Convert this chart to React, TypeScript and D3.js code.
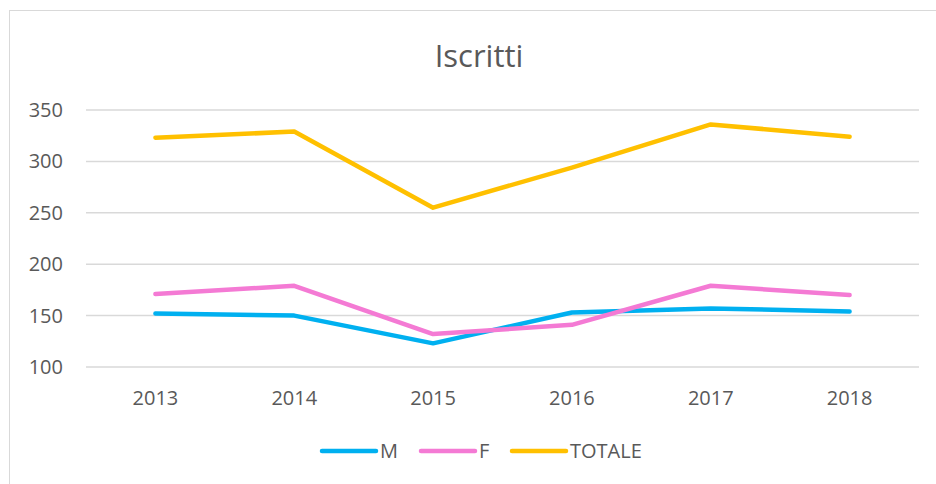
import { useEffect, useRef } from 'react';
import * as d3 from 'd3';

// Dati — iscritti per anno
const YEARS = ['2013', '2014', '2015', '2016', '2017', '2018'];
const M = [152, 150, 123, 153, 157, 154];
const F = [171, 179, 132, 141, 179, 170];
const TOTALE = [323, 329, 255, 294, 336, 324];
const Y_TICKS = [100, 150, 200, 250, 300, 350];

const SERIES = [
  { name: 'M', values: M, color: '#00B0F0' },
  { name: 'F', values: F, color: '#F47AD4' },
  { name: 'TOTALE', values: TOTALE, color: '#FFC000' },
];

const W = 936;
const H = 484;
const FONT = '"Open Sans", sans-serif';
const TXT = '#595959';

export default function App() {
  const svgRef = useRef<SVGSVGElement>(null);

  useEffect(() => {
    const svg = d3.select(svgRef.current);
    svg.selectAll('*').remove();

    const plot = { left: 86, right: 919, top: 110, bottom: 367 };

    const x = d3.scaleBand<string>().domain(YEARS).range([plot.left, plot.right]);
    const y = d3.scaleLinear().domain([100, 350]).range([plot.bottom, plot.top]);

    // cornice
    svg.append('rect')
      .attr('x', 9.5).attr('y', 10.5)
      .attr('width', 960).attr('height', 500)
      .attr('fill', '#fff').attr('stroke', '#D9D9D9').attr('stroke-width', 1);

    // titolo
    svg.append('text')
      .attr('x', 479).attr('y', 67)
      .attr('text-anchor', 'middle')
      .attr('font-family', FONT).attr('font-size', 31)
      .attr('fill', TXT)
      .text('Iscritti');

    // griglia
    svg.append('g').selectAll('line')
      .data(Y_TICKS)
      .join('line')
      .attr('x1', plot.left).attr('x2', plot.right)
      .attr('y1', d => y(d)).attr('y2', d => y(d))
      .attr('stroke', '#D9D9D9').attr('stroke-width', 1.5);

    // etichette asse Y
    svg.append('g').selectAll('text')
      .data(Y_TICKS)
      .join('text')
      .attr('x', 63).attr('y', d => y(d) + 7)
      .attr('text-anchor', 'end')
      .attr('font-family', FONT).attr('font-size', 20)
      .attr('fill', TXT)
      .text(d => d);

    // etichette asse X
    svg.append('g').selectAll('text')
      .data(YEARS)
      .join('text')
      .attr('x', d => (x(d) ?? 0) + x.bandwidth() / 2)
      .attr('y', 405)
      .attr('text-anchor', 'middle')
      .attr('font-family', FONT).attr('font-size', 20)
      .attr('fill', TXT)
      .text(d => d);

    // linee
    const line = d3.line<number>()
      .x((_, i) => (x(YEARS[i]) ?? 0) + x.bandwidth() / 2)
      .y(d => y(d));

    svg.append('g').selectAll('path')
      .data(SERIES)
      .join('path')
      .attr('d', s => line(s.values))
      .attr('fill', 'none')
      .attr('stroke', s => s.color)
      .attr('stroke-width', 4.5)
      .attr('stroke-linecap', 'round')
      .attr('stroke-linejoin', 'round');

    // legenda
    const legendX = [322, 421, 512];
    const lg = svg.append('g').selectAll('g')
      .data(SERIES)
      .join('g')
      .attr('transform', (_, i) => `translate(${legendX[i]},451)`);
    lg.append('line')
      .attr('x1', 0).attr('x2', 54)
      .attr('stroke', s => s.color)
      .attr('stroke-width', 4.5)
      .attr('stroke-linecap', 'round');
    lg.append('text')
      .attr('x', 58).attr('y', 7)
      .attr('font-family', FONT).attr('font-size', 20)
      .attr('fill', TXT)
      .text(s => s.name);
  }, []);

  return (
    <svg
      ref={svgRef}
      width={W}
      height={H}
      style={{ position: 'absolute', left: 0, top: 0, display: 'block', background: '#fff' }}
    />
  );
}
